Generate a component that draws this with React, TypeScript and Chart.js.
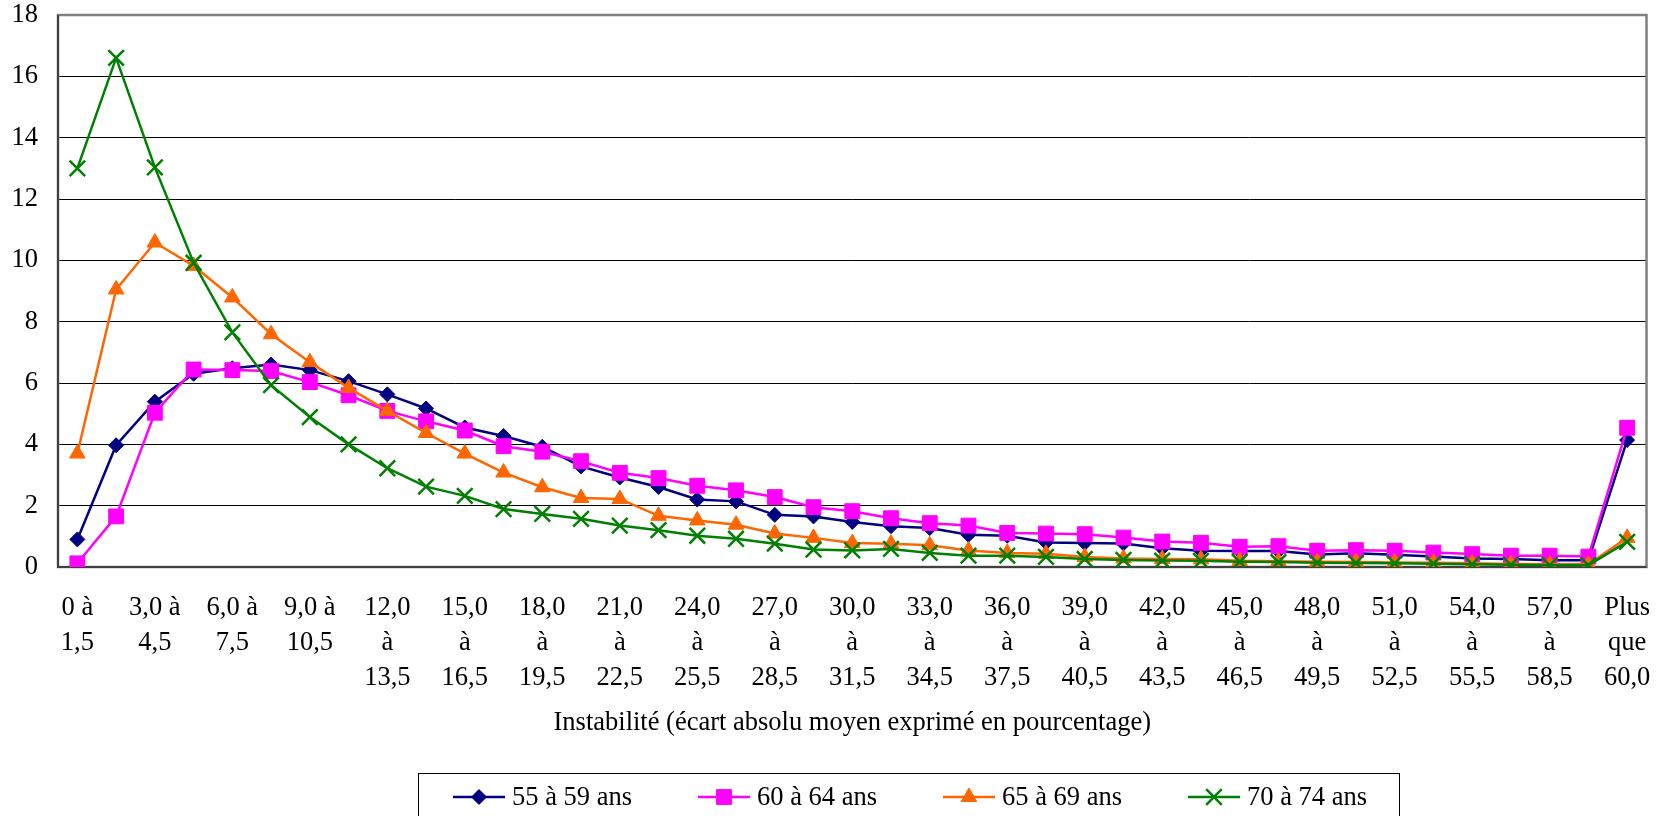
import React, { useEffect, useRef } from 'react';
import { Chart, registerables } from 'chart.js';
import { drawPoint } from 'chart.js/helpers';

Chart.register(...registerables);

const categories = [
  '0 à 1,5', '1,5 à 3,0', '3,0 à 4,5', '4,5 à 6,0', '6,0 à 7,5', '7,5 à 9,0',
  '9,0 à 10,5', '10,5 à 12,0', '12,0 à 13,5', '13,5 à 15,0', '15,0 à 16,5',
  '16,5 à 18,0', '18,0 à 19,5', '19,5 à 21,0', '21,0 à 22,5', '22,5 à 24,0',
  '24,0 à 25,5', '25,5 à 27,0', '27,0 à 28,5', '28,5 à 30,0', '30,0 à 31,5',
  '31,5 à 33,0', '33,0 à 34,5', '34,5 à 36,0', '36,0 à 37,5', '37,5 à 39,0',
  '39,0 à 40,5', '40,5 à 42,0', '42,0 à 43,5', '43,5 à 45,0', '45,0 à 46,5',
  '46,5 à 48,0', '48,0 à 49,5', '49,5 à 51,0', '51,0 à 52,5', '52,5 à 54,0',
  '54,0 à 55,5', '55,5 à 57,0', '57,0 à 58,5', '58,5 à 60,0', 'Plus que 60,0',
];

const seriesNames = ['55 à 59 ans', '60 à 64 ans', '65 à 69 ans', '70 à 74 ans'];

const values55 = [
  0.9, 3.97, 5.39, 6.3, 6.48, 6.6, 6.42, 6.06, 5.63, 5.17, 4.55, 4.27, 3.92, 3.28,
  2.92, 2.61, 2.2, 2.14, 1.7, 1.65, 1.47, 1.33, 1.27, 1.05, 1.02, 0.8, 0.78, 0.77,
  0.61, 0.53, 0.52, 0.52, 0.41, 0.45, 0.4, 0.34, 0.28, 0.26, 0.22, 0.22, 4.14,
];
const values60 = [
  0.12, 1.65, 5.03, 6.44, 6.42, 6.39, 6.03, 5.6, 5.09, 4.75, 4.45, 3.94, 3.76, 3.45,
  3.07, 2.9, 2.65, 2.5, 2.28, 1.95, 1.82, 1.59, 1.43, 1.35, 1.11, 1.09, 1.07, 0.96,
  0.83, 0.79, 0.66, 0.68, 0.53, 0.55, 0.53, 0.47, 0.42, 0.37, 0.37, 0.34, 4.54,
];
const values65 = [
  3.7, 9.05, 10.58, 9.82, 8.79, 7.59, 6.68, 5.84, 5.09, 4.37, 3.7, 3.08, 2.6, 2.25,
  2.22, 1.67, 1.52, 1.38, 1.09, 0.95, 0.78, 0.76, 0.71, 0.54, 0.46, 0.43, 0.33, 0.28,
  0.26, 0.25, 0.2, 0.19, 0.17, 0.16, 0.15, 0.14, 0.12, 0.1, 0.09, 0.09, 0.95,
];
const values70 = [
  13.0, 16.6, 13.03, 9.92, 7.65, 5.93, 4.89, 4.0, 3.22, 2.62, 2.32, 1.89, 1.73, 1.57,
  1.35, 1.2, 1.02, 0.92, 0.76, 0.57, 0.54, 0.59, 0.46, 0.37, 0.37, 0.33, 0.26, 0.23,
  0.21, 0.2, 0.17, 0.16, 0.14, 0.13, 0.12, 0.11, 0.09, 0.07, 0.06, 0.06, 0.82,
];

const yMin = 0;
const yMax = 18;
const yStep = 2;
const axisTitle = 'Instabilité (écart absolu moyen exprimé en pourcentage)';

const FONT = '"Liberation Serif", "Times New Roman", serif';
const FS = 26.5;

function wrapLabel(c: string): string[] {
  if (c.startsWith('Plus')) return c.split(' ');
  const [a, b] = c.split(' à ');
  return a.length <= 3 ? [a + ' à', b] : [a, 'à', b];
}

const styles = [
  { color: '#000080', pointStyle: 'rectRot', radius: 7.5 },
  { color: '#FF00FF', pointStyle: 'rect', radius: 10.5 },
  { color: '#FF6600', pointStyle: 'triangle', radius: 9 },
  { color: '#008000', pointStyle: 'crossRot', radius: 11 },
];

const borderPlugin = {
  id: 'plotBorder',
  beforeDatasetsDraw(chart: any) {
    const { ctx, chartArea: a } = chart;
    ctx.save();
    ctx.strokeStyle = '#808080';
    ctx.lineWidth = 2.5;
    ctx.strokeRect(a.left, a.top, a.right - a.left, a.bottom - a.top);
    ctx.strokeStyle = '#404040';
    ctx.lineWidth = 2;
    ctx.beginPath();
    ctx.moveTo(a.left, a.top);
    ctx.lineTo(a.left, a.bottom);
    ctx.lineTo(a.right, a.bottom);
    ctx.stroke();
    ctx.restore();
  },
};

const legendPlugin = {
  id: 'boxLegend',
  afterDraw(chart: any) {
    const { ctx } = chart;
    ctx.save();
    ctx.strokeStyle = '#000';
    ctx.lineWidth = 1;
    ctx.strokeRect(418.5, 773.5, 981, 60);
    const y = 797;
    chart.data.datasets.forEach((ds: any, i: number) => {
      const st = styles[i];
      const x0 = 453 + i * 245;
      ctx.strokeStyle = st.color;
      ctx.lineWidth = 2.5;
      ctx.beginPath();
      ctx.moveTo(x0, y);
      ctx.lineTo(x0 + 52, y);
      ctx.stroke();
      ctx.fillStyle = st.color;
      ctx.strokeStyle = st.color;
      ctx.lineWidth = st.pointStyle === 'crossRot' ? 2.5 : 1;
      drawPoint(ctx, { pointStyle: st.pointStyle, radius: st.radius, rotation: 0, borderWidth: ctx.lineWidth }, x0 + 26, y);
      ctx.fillStyle = '#000';
      ctx.font = `${FS}px ${FONT}`;
      ctx.textBaseline = 'middle';
      ctx.textAlign = 'left';
      ctx.fillText(ds.label, x0 + 59, y + 1);
    });
    ctx.restore();
  },
};

export default function App() {
  const ref = useRef<HTMLCanvasElement>(null);

  useEffect(() => {
    if (!ref.current) return;
    const seriesValues = [values55, values60, values65, values70];
    const chart = new Chart(ref.current, {
      type: 'line',
      data: {
        labels: categories,
        datasets: seriesValues.map((vals, i) => ({
          label: seriesNames[i],
          data: vals,
          borderColor: styles[i].color,
          backgroundColor: styles[i].color,
          pointBackgroundColor: styles[i].color,
          pointBorderColor: styles[i].color,
          pointStyle: styles[i].pointStyle as any,
          pointRadius: styles[i].radius,
          pointHoverRadius: styles[i].radius,
          pointBorderWidth: styles[i].pointStyle === 'crossRot' ? 2.5 : 1,
          borderWidth: 2.5,
          tension: 0,
          fill: false,
          order: 4 - i,
        })),
      },
      options: {
        responsive: false,
        animation: false,
        layout: { padding: { top: 15, right: 10, bottom: 0, left: 0 } },
        plugins: {
          legend: { display: false },
          tooltip: { enabled: false },
          title: { display: false },
        },
        scales: {
          x: {
            type: 'category',
            offset: true,
            grid: { display: false, drawTicks: false },
            border: { display: false },
            ticks: {
              autoSkip: false,
              maxRotation: 0,
              minRotation: 0,
              padding: 24,
              color: '#000',
              font: { family: FONT, size: FS, lineHeight: 1.31 },
              callback: (_v: any, idx: number) => (idx % 2 === 0 ? wrapLabel(categories[idx]) : ''),
            },
            title: {
              display: true,
              text: axisTitle,
              color: '#000',
              font: { family: FONT, size: FS, lineHeight: 1.2 },
              padding: { top: 0, bottom: 77 },
            },
            afterFit: (scale: any) => {
              scale.height = 249;
              scale.paddingLeft = 0;
              scale.paddingRight = 0;
            },
          },
          y: {
            min: yMin,
            max: yMax,
            grid: { color: '#000', lineWidth: 1, drawTicks: false },
            border: { display: false },
            ticks: {
              stepSize: yStep,
              padding: 20,
              color: '#000',
              font: { family: FONT, size: FS, lineHeight: 1 },
            },
            afterFit: (scale: any) => {
              scale.width = 58;
              scale.paddingTop = 0;
              scale.paddingBottom = 0;
            },
          },
        },
      },
      plugins: [borderPlugin, legendPlugin],
    });
    return () => chart.destroy();
  }, []);

  return (
    <div style={{ position: 'absolute', left: 0, top: 0, width: 1660, height: 816, background: '#fff' }}>
      <canvas ref={ref} width={1660} height={816} style={{ width: 1660, height: 816, display: 'block' }} />
    </div>
  );
}
